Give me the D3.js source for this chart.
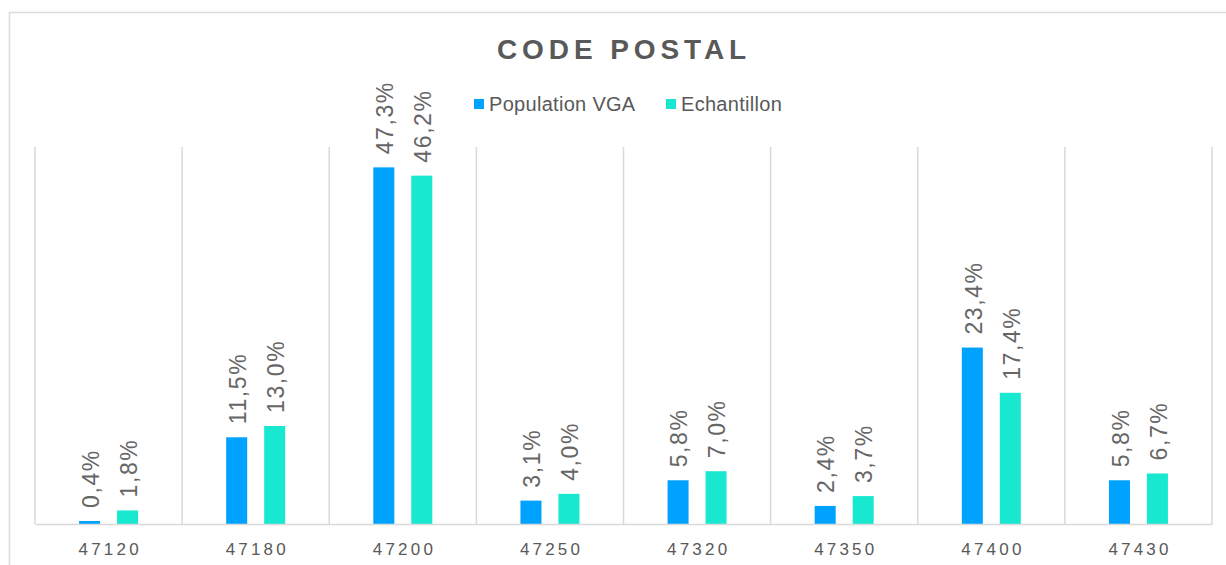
<!DOCTYPE html>
<html>
<head>
<meta charset="utf-8">
<script src="https://cdn.jsdelivr.net/npm/d3@7"></script>
<style>
  body { margin: 0; background: #fff; }
  text { font-family: "Liberation Sans", Arial, Helvetica, sans-serif; fill: #595959; }
</style>
</head>
<body>
<script>
// Chart data
var codes = ["47120", "47180", "47200", "47250", "47320", "47350", "47400", "47430"];
var seriesNames = ["Population VGA", "Echantillon"];
var population = [0.4, 11.5, 47.3, 3.1, 5.8, 2.4, 23.4, 5.8];
var echantillon = [1.8, 13.0, 46.2, 4.0, 7.0, 3.7, 17.4, 6.7];
var colors = ["#00a2ff", "#17e8cf"];

var svgWidth = 1226;
var svgHeight = 565;

var margin = { top: 147, right: 14, bottom: 41, left: 35 };
var width = svgWidth - margin.left - margin.right;
var height = svgHeight - margin.top - margin.bottom;

var svg = d3.select("body")
  .append("svg")
  .attr("width", svgWidth)
  .attr("height", svgHeight);

// outer frame (only top and left are visible)
svg.append("line").attr("x1", 9).attr("x2", svgWidth).attr("y1", 12.5).attr("y2", 12.5)
  .attr("stroke", "#dcdcdc").attr("stroke-width", 1.5);
svg.append("line").attr("x1", 9.5).attr("x2", 9.5).attr("y1", 12).attr("y2", svgHeight)
  .attr("stroke", "#dcdcdc").attr("stroke-width", 1.5);

// title
svg.append("text")
  .attr("x", 624)
  .attr("y", 59)
  .attr("text-anchor", "middle")
  .style("font-size", "28px")
  .style("font-weight", "bold")
  .style("letter-spacing", "4.9px")
  .text("CODE POSTAL");

// legend
var legendX = [474, 666];
var legend = svg.selectAll(".legend")
  .data(seriesNames)
  .enter()
  .append("g")
  .attr("transform", (d, i) => `translate(${legendX[i]}, 99)`);
legend.append("rect")
  .attr("width", 10).attr("height", 10)
  .attr("fill", (d, i) => colors[i]);
legend.append("text")
  .attr("x", 15)
  .attr("y", 11.5)
  .style("font-size", "20px")
  .style("letter-spacing", "0.3px")
  .text(d => d);

var chartGroup = svg.append("g")
  .attr("transform", `translate(${margin.left}, ${margin.top})`);

// scales
var x0 = d3.scaleBand()
  .domain(codes)
  .range([0, width])
  .padding(0);

var x1 = d3.scaleBand()
  .domain(seriesNames)
  .range([0, x0.bandwidth()])
  .paddingInner(0.447)
  .paddingOuter(1.16);

var y = d3.scaleLinear()
  .domain([0, 50])
  .range([height, 0]);

// category separators
chartGroup.selectAll(".sep")
  .data(d3.range(codes.length + 1))
  .enter()
  .append("line")
  .attr("x1", i => i * x0.step())
  .attr("x2", i => i * x0.step())
  .attr("y1", 0)
  .attr("y2", height)
  .attr("stroke", "#d9d9d9")
  .attr("stroke-width", 1.5);

// bars
var rows = codes.map((c, i) => ({ code: c, values: [population[i], echantillon[i]] }));

var groups = chartGroup.selectAll(".grp")
  .data(rows)
  .enter()
  .append("g")
  .attr("transform", d => `translate(${x0(d.code)}, 0)`);

groups.selectAll("rect")
  .data(d => d.values.map((v, j) => ({ name: seriesNames[j], value: v, j: j })))
  .enter()
  .append("rect")
  .attr("x", d => x1(d.name))
  .attr("width", x1.bandwidth())
  .attr("y", d => y(d.value))
  .attr("height", d => height - y(d.value))
  .attr("fill", d => colors[d.j]);

// value labels
groups.selectAll(".lbl")
  .data(d => d.values.map((v, j) => ({ name: seriesNames[j], value: v })))
  .enter()
  .append("text")
  .attr("transform", d => `translate(${x1(d.name) + x1.bandwidth() / 2 + 1}, ${y(d.value) - 13}) rotate(-90)`)
  .attr("dy", "0.36em")
  .style("font-size", "23px")
  .style("letter-spacing", "1.6px")
  .style("fill", "#666")
  .text(d => d.value.toFixed(1).replace(".", ",") + "%");

// x axis
var bottomAxis = d3.axisBottom(x0).tickSize(0).tickPadding(19);
var xAxis = chartGroup.append("g")
  .attr("transform", `translate(0, ${height})`)
  .call(bottomAxis);
xAxis.select(".domain").attr("stroke", "#d9d9d9").attr("stroke-width", 1.5);
xAxis.selectAll("text")
  .style("font-size", "17px")
  .style("letter-spacing", "3.2px")
  .attr("dx", "1.6px");
</script>
</body>
</html>
